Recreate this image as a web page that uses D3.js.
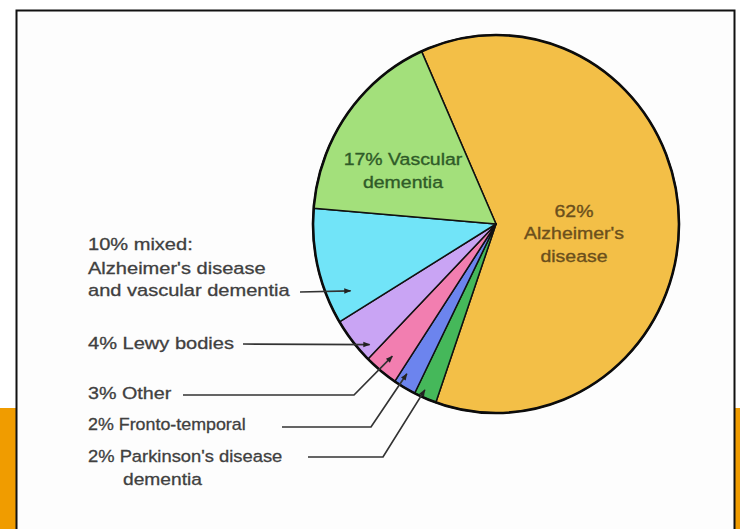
<!DOCTYPE html>
<html>
<head>
<meta charset="utf-8">
<script src="https://cdn.jsdelivr.net/npm/d3@7"></script>
<style>
  html, body { margin: 0; padding: 0; background: #ffffff; }
  svg { display: block; }
  text { font-family: "Liberation Sans", Arial, Helvetica, sans-serif; }
</style>
</head>
<body>
<svg id="chart" width="740" height="529"></svg>
<script>
// Dementia types, in clockwise order starting at Alzheimer's disease
const categories = [
  "Alzheimer's disease",
  "Parkinson's disease dementia",
  "Fronto-temporal",
  "Other",
  "Lewy bodies",
  "mixed",
  "Vascular dementia"
];
const shares = [62, 2, 2, 3, 4, 10, 17];
const sliceColors = ["#f3bf47", "#45b85a", "#6c84ee", "#f27eb0", "#c9a4f4", "#71e4f8", "#a3e07b"];

// Text lines for each category (the percentage is prefixed from `shares`)
const labelLines = [
  ["", "Alzheimer's", "disease"],
  [" Parkinson's disease", "dementia"],
  [" Fronto-temporal"],
  [" Other"],
  [" Lewy bodies"],
  [" mixed:", "Alzheimer's disease", "and vascular dementia"],
  [" Vascular", "dementia"]
];

const svg = d3.select("#chart");
const W = 740, H = 529;

// ---- page frame ----
svg.append("rect").attr("x", 0).attr("y", 408).attr("width", 16).attr("height", H - 408).attr("fill", "#f09c00");
svg.append("rect").attr("x", 735).attr("y", 408).attr("width", 5).attr("height", H - 408).attr("fill", "#f09c00");
svg.append("rect")
  .attr("x", 16.5).attr("y", 10.5).attr("width", 718).attr("height", 540)
  .attr("fill", "#fdfdfd").attr("stroke", "#111").attr("stroke-width", 2);

// ---- pie geometry ----
const cx = 496, cy = 224, R = 183, sy = 189 / 183;
const start = -24 * Math.PI / 180;

const pie = d3.pie().sort(null).value(d => d).startAngle(start).endAngle(start + 2 * Math.PI);
const arcs = pie(shares);
const arc = d3.arc().innerRadius(0).outerRadius(R);

const g = svg.append("g").attr("transform", `translate(${cx},${cy}) scale(1,${sy})`);
g.selectAll("path.slice")
  .data(arcs)
  .join("path")
  .attr("class", "slice")
  .attr("d", arc)
  .attr("fill", (d, i) => sliceColors[i])
  .attr("stroke", "#111")
  .attr("stroke-width", 1.5)
  .attr("stroke-linejoin", "round")
  .attr("vector-effect", "non-scaling-stroke");
g.append("circle")
  .attr("r", R).attr("fill", "none")
  .attr("stroke", "#0c0c0c").attr("stroke-width", 2.6)
  .attr("vector-effect", "non-scaling-stroke");

// point inside a slice: fraction t across its angle, fraction k of the radius
function slicePoint(i, t, k) {
  const a = arcs[i].startAngle + t * (arcs[i].endAngle - arcs[i].startAngle);
  return [cx + k * R * Math.sin(a), cy - k * R * Math.cos(a) * sy];
}

// ---- labels inside the pie ----
function drawText(lines, x, baselines, opts) {
  lines.forEach((s, j) => {
    svg.append("text")
      .attr("transform", `translate(${x},${baselines[j]}) scale(${opts.sx},1)`)
      .attr("text-anchor", opts.anchor)
      .attr("font-size", opts.size)
      .attr("fill", opts.color)
      .attr("stroke", opts.color)
      .attr("stroke-width", 0.35)
      .text(s);
  });
}

const alzLines = labelLines[0].slice();
alzLines[0] = shares[0] + "%";
drawText(alzLines, 574, [217, 239, 262], { sx: 1.18, anchor: "middle", size: 16.5, color: "#6b4f1c" });

const vasLines = labelLines[6].slice();
vasLines[0] = shares[6] + "%" + vasLines[0];
drawText(vasLines, 403, [165, 188], { sx: 1.18, anchor: "middle", size: 16.5, color: "#2f5b28" });

// ---- outside labels with leader arrows ----
const defs = svg.append("defs");
defs.append("marker")
  .attr("id", "arrow")
  .attr("viewBox", "0 0 10 10")
  .attr("refX", 9).attr("refY", 5)
  .attr("markerWidth", 8).attr("markerHeight", 7)
  .attr("markerUnits", "userSpaceOnUse")
  .attr("orient", "auto")
  .append("path").attr("d", "M0,1 L10,5 L0,9 Z").attr("fill", "#222");

// layout of each outside label: text position, leader start/elbow, arrow tip inside the slice
const outside = [
  { i: 5, x: 88, base: [250, 274, 296], sx: [1.18, 1.18, 1.18], dx: [0, 0, 0], lead: [[300, 292]], t: 0.2, k: 0.87 },
  { i: 4, x: 88, base: [349], sx: [1.18], dx: [0], lead: [[243, 344]], t: 0.2, k: 0.94 },
  { i: 3, x: 88, base: [399], sx: [1.16], dx: [0], lead: [[183, 395], [354, 395]], t: 0.5, k: 0.9 },
  { i: 2, x: 88, base: [430], sx: [1.05], dx: [0], lead: [[282, 427], [371, 427]], t: 0.72, k: 0.93 },
  { i: 1, x: 88, base: [462, 485], sx: [1.08, 1.13], dx: [0, 35], lead: [[308, 457], [383, 457]], t: 0.65, k: 0.96 }
];

outside.forEach(o => {
  const lines = labelLines[o.i].slice();
  lines[0] = shares[o.i] + "%" + lines[0];
  lines.forEach((s, j) => {
    svg.append("text")
      .attr("transform", `translate(${o.x + o.dx[j]},${o.base[j]}) scale(${o.sx[j]},1)`)
      .attr("font-size", 17)
      .attr("fill", "#404040")
      .attr("stroke", "#404040")
      .attr("stroke-width", 0.3)
      .text(s);
  });
  const pts = o.lead.concat([slicePoint(o.i, o.t, o.k)]);
  svg.append("path")
    .attr("d", d3.line()(pts))
    .attr("fill", "none")
    .attr("stroke", "#333")
    .attr("stroke-width", 1.7)
    .attr("marker-end", "url(#arrow)");
});
</script>
</body>
</html>
